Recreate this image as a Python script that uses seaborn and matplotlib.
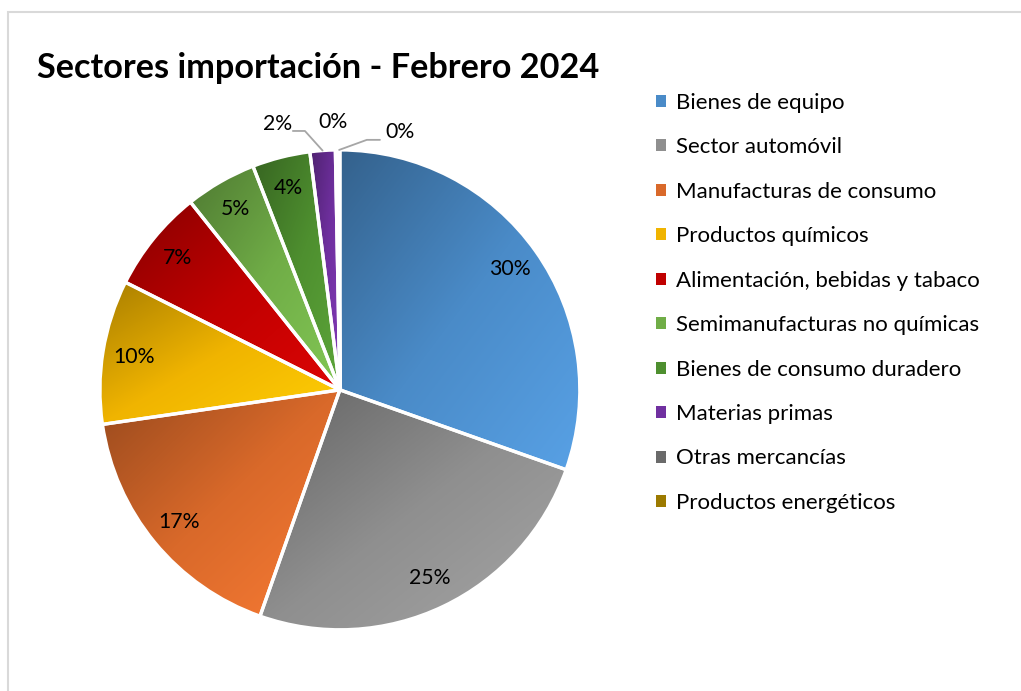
import numpy as np
import matplotlib
matplotlib.use("Agg")
import matplotlib.pyplot as plt
import seaborn as sns
from matplotlib.colors import LinearSegmentedColormap, to_rgb
from matplotlib.patches import Patch, Rectangle

# datos (porcentaje de importaciones por sector)
sectores = [
    "Bienes de equipo",
    "Sector automóvil",
    "Manufacturas de consumo",
    "Productos químicos",
    "Alimentación, bebidas y tabaco",
    "Semimanufacturas no químicas",
    "Bienes de consumo duradero",
    "Materias primas",
    "Otras mercancías",
    "Productos energéticos",
]
porcentajes = [30.4, 25.0, 17.3, 9.7, 6.9, 4.8, 3.9, 1.7, 0.2, 0.1]
colores = ["#4A8BC8", "#8F8F8F", "#D9692A", "#F0B400", "#C00000",
           "#70AD47", "#4E8F2F", "#7030A0", "#6A6A6A", "#9C7A00"]

sns.set_theme(style="white")
plt.rcParams["font.family"] = ["Lato", "DejaVu Sans"]
plt.rcParams["text.color"] = "black"

fig = plt.figure(figsize=(10.21, 6.91), dpi=100)
ax = fig.add_axes([0.0979, 0.0883, 0.470, 0.695])

paleta = sns.color_palette(colores)
fs_pct = 15.3


def etiqueta(v):
    return f"{v:.0f}%" if v >= 3 else ""


wedges, _, autotexts = ax.pie(
    porcentajes, colors=paleta, startangle=90, counterclock=False,
    autopct=etiqueta, pctdistance=0.87, radius=1,
    wedgeprops=dict(linewidth=0),
    textprops=dict(fontsize=fs_pct, color="black", zorder=5),
)

# degradado de cada porcion (oscuro arriba-izquierda, claro abajo-derecha)
n = 120
xx, yy = np.meshgrid(np.linspace(0, 1, n), np.linspace(0, 1, n))
t = (xx + (1 - yy)) / 2
for w, c in zip(wedges, paleta):
    base = np.array(to_rgb(c))
    oscuro = np.clip(base * 0.7, 0, 1)
    claro = np.clip(base * 1.12 + 0.02, 0, 1)
    cmap = LinearSegmentedColormap.from_list("g", [oscuro, base, claro])
    x0, y0, x1, y1 = w.get_path().get_extents().extents
    im = ax.imshow(t, cmap=cmap, extent=(x0, x1, y0, y1), origin="lower",
                   aspect="auto", zorder=2, interpolation="bilinear")
    im.set_clip_path(w)

# bordes blancos encima del degradado
ax.pie(porcentajes, colors=["none"] * len(porcentajes), startangle=90,
       counterclock=False, radius=1,
       wedgeprops=dict(edgecolor="white", linewidth=2.4, zorder=3))

# etiquetas de las porciones pequenas con lineas guia
acum = np.cumsum([0] + porcentajes[:-1])
angulos = [np.deg2rad(90 - 3.6 * (a + v / 2)) for a, v in zip(acum, porcentajes)]
borde = [(np.cos(a), np.sin(a)) for a in angulos]
guia = dict(arrowstyle="-", color="#A6A6A6", lw=1.3, shrinkA=0, shrinkB=0)

ax.text(-0.258, 1.108, f"{porcentajes[7]:.0f}%", ha="center", va="center",
        fontsize=fs_pct)
ax.annotate("", xy=borde[7], xytext=(-0.196, 1.079),
            arrowprops=dict(guia, connectionstyle="angle,angleA=0,angleB=132,rad=0"))
ax.text(-0.03, 1.115, f"{porcentajes[8]:.0f}%", ha="center", va="center",
        fontsize=fs_pct)
ax.text(0.25, 1.075, f"{porcentajes[9]:.0f}%", ha="center", va="center",
        fontsize=fs_pct)
ax.annotate("", xy=borde[9], xytext=(0.167, 1.042),
            arrowprops=dict(guia, connectionstyle="angle,angleA=0,angleB=20,rad=0"))

ax.set_xlim(-1, 1)
ax.set_ylim(-1, 1)
ax.set_aspect("equal")
ax.axis("off")

fig.text(37 / 1021, 1 - 68 / 691, "Sectores importación - Febrero 2024",
         fontsize=24.7, fontweight="bold", va="center", ha="left")

handles = [Patch(facecolor=c, edgecolor="none") for c in paleta]
fig.legend(handles, sectores, loc="upper left",
           bbox_to_anchor=(647 / 1021, 1 - 84 / 691), frameon=False,
           fontsize=16, handlelength=0.45, handleheight=0.45,
           handletextpad=0.45, labelspacing=1.1, borderaxespad=0)

# marco gris claro del grafico
fig.add_artist(Rectangle((8 / 1021, -0.1), 1.2, 1.1 - 12 / 691,
                         transform=fig.transFigure, fill=False,
                         edgecolor="#D9D9D9", linewidth=1.5))

fig.savefig("out.png", dpi=100)
